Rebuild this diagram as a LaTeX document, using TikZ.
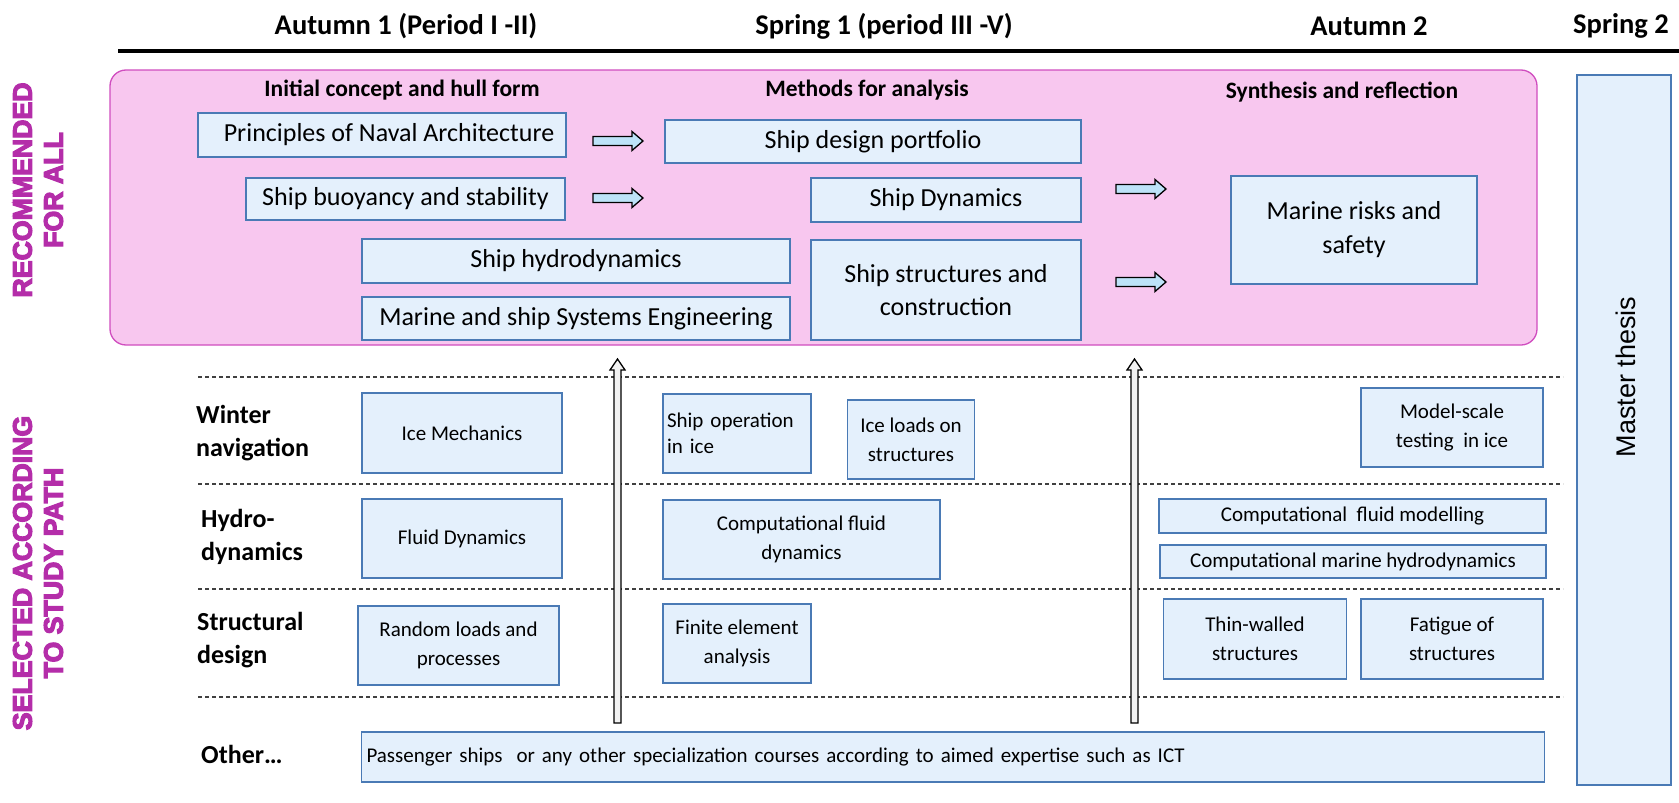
\documentclass[tikz,border=0pt]{standalone}
\usepackage{fontspec}
\setmainfont{Carlito}
\newfontfamily\arialfont{Liberation Sans}
\setsansfont{Liberation Sans}
\usetikzlibrary{calc}
\definecolor{boxfill}{HTML}{E4F0FC}
\definecolor{boxline}{HTML}{4A7AB5}
\definecolor{pinkfill}{HTML}{F8C7EF}
\definecolor{pinkline}{HTML}{D04DBF}
\definecolor{maglabel}{HTML}{B42DA9}
\definecolor{arrowfill}{HTML}{BDE3F8}
\definecolor{upfill}{HTML}{F2F2F2}
\tikzset{
  box/.style={draw=boxline, fill=boxfill, line width=1.6pt, inner sep=0pt, align=center},
  big/.style={font=\fontsize{26}{33}\selectfont},
  small/.style={font=\fontsize{21}{29}\selectfont},
  hd/.style={font=\bfseries\fontsize{28.5}{34}\selectfont, inner sep=0pt},
  sub/.style={font=\bfseries\fontsize{23.5}{28}\selectfont, inner sep=0pt},
  rowlab/.style={font=\bfseries\fontsize{26}{33}\selectfont, align=left, anchor=west, inner sep=0pt},
  side/.style={font=\sffamily\bfseries\fontsize{26.7}{31}\selectfont, text=maglabel, rotate=90, align=center, inner sep=0pt},
  pinkbox/.style={draw=pinkline, fill=pinkfill, line width=1.3pt, rounded corners=16pt, inner sep=0pt},
  dashline/.style={draw=black!75, line width=1.1pt, dash pattern=on 4pt off 3pt},
  rblock/.pic={\draw[fill=arrowfill, line width=1.3pt, line join=miter]
     (0,-4.5) -- (39,-4.5) -- (39,-9.5) -- (50,0) -- (39,9.5) -- (39,4.5) -- (0,4.5) -- cycle;},
  upblock/.pic={\draw[fill=upfill, line width=1.3pt, line join=miter]
     (-3.5,0) -- (-3.5,-353) -- (-7.5,-353) -- (0,-364) -- (7.5,-353) -- (3.5,-353) -- (3.5,0) -- cycle;}
}
\begin{document}
\begin{tikzpicture}[x=1pt,y=-1pt]
\useasboundingbox (0,0) rectangle (1679,803);

% headings
\node[hd] (h1) at (406,26) {Autumn 1 (Period I -II)};
\node[hd] (h2) at (884,26) {Spring 1 (period III -V)};
\node[hd] (h3) at (1369,26) {Autumn 2};
\node[hd] (h4) at (1621,26) {Spring 2};
\coordinate (ls) at (118,51);
\coordinate (le) at (1679,51);
\draw[line width=3.5pt] (ls) -- (le);

% side labels
\node[side] (recall) at (38,190) {\special{pdf:literal direct 2 Tr 1.2 w}RECOMMENDED\\\special{pdf:literal direct 2 Tr 1.2 w}FOR ALL\special{pdf:literal direct 0 Tr}};
\node[side] (selpath) at (38,573) {\special{pdf:literal direct 2 Tr 1.2 w}SELECTED ACCORDING\\\special{pdf:literal direct 2 Tr 1.2 w}TO STUDY PATH\special{pdf:literal direct 0 Tr}};

% recommended area
\node[pinkbox, minimum width=1427, minimum height=275] (rec) at (823.5,207.5) {};
\node[sub] (sA) at (402,90) {Initial concept and hull form};
\node[sub] (sB) at (867,90) {Methods for analysis};
\node[sub] (sC) at (1342,92) {Synthesis and reflection};

\node[box, big, minimum width=368, minimum height=44] (p1) at (382,135) {\hspace{14pt}Principles of Naval Architecture};
\node[box, big, minimum width=319, minimum height=42] (p2) at (405.5,199) {Ship buoyancy and stability};
\node[box, big, minimum width=428, minimum height=44] (p3) at (576,261) {Ship hydrodynamics};
\node[box, big, minimum width=428, minimum height=43] (p4) at (576,318.5) {Marine and ship Systems Engineering};
\node[box, big, minimum width=416, minimum height=43] (m1) at (873,141.5) {Ship design portfolio};
\node[box, big, minimum width=270, minimum height=44] (m2) at (946,200) {Ship Dynamics};
\node[box, big, minimum width=270, minimum height=100] (m3) at (946,290) {Ship structures and\\construction};
\node[box, big, minimum width=246, minimum height=108] (s1) at (1354,230) {Marine risks and\\[1pt]safety};

\coordinate (a1) at (593,141);
\coordinate (a2) at (593,198);
\coordinate (a3) at (1116,189);
\coordinate (a4) at (1116,282);
\pic at (a1) {rblock};
\pic at (a2) {rblock};
\pic at (a3) {rblock};
\pic at (a4) {rblock};

% master thesis
\node[box, minimum width=94, minimum height=710] (mt) at (1624,430) {};
\node[font=\arialfont\fontsize{27}{32}\selectfont, rotate=90, inner sep=0pt] (mtt) at (1626,377) {Master thesis};

% dashed separators
\coordinate (d1a) at (198,377);  \coordinate (d1b) at (1563,377);
\coordinate (d2a) at (198,484);  \coordinate (d2b) at (1563,484);
\coordinate (d3a) at (198,589);  \coordinate (d3b) at (1563,589);
\coordinate (d4a) at (198,697);  \coordinate (d4b) at (1563,697);
\draw[dashline] (d1a) -- (d1b);
\draw[dashline] (d2a) -- (d2b);
\draw[dashline] (d3a) -- (d3b);
\draw[dashline] (d4a) -- (d4b);

% row labels
\node[rowlab] (rw) at (196,433.5) {Winter\\navigation};
\node[rowlab] (rh) at (201,536.5) {Hydro-\\dynamics};
\node[rowlab] (rs) at (197,640.5) {Structural\\design};
\node[rowlab] (ro) at (201,754) {Other…};

% winter navigation
\node[box, small, minimum width=200, minimum height=80] (im) at (462,433) {Ice Mechanics};
\node[box, small, text width=140, inner xsep=4pt, align=left, minimum height=79, font=\fontsize{21}{26}\selectfont] (so) at (737,433.5) {Ship operation\\in ice};
\node[box, small, minimum width=127, minimum height=79] (il) at (911,439.5) {Ice loads on\\structures};
\node[box, small, minimum width=182, minimum height=79] (ms) at (1452,427.5) {Model-scale\\testing\ \ in ice};

% hydrodynamics
\node[box, small, minimum width=200, minimum height=79] (fd) at (462,538.5) {Fluid Dynamics};
\node[box, small, minimum width=277, minimum height=79] (cfd) at (801.5,539.5) {Computational fluid\\dynamics};
\node[box, small, minimum width=387, minimum height=34] (cfm) at (1352.5,516) {Computational\ \ fluid modelling};
\node[box, small, minimum width=386, minimum height=33] (cmh) at (1353,561.5) {Computational marine hydrodynamics};

% structural design
\node[box, small, minimum width=201, minimum height=79] (rl) at (458.5,645.5) {Random loads and\\processes};
\node[box, small, minimum width=148, minimum height=79] (fe) at (737,643.5) {Finite element\\analysis};
\node[box, small, minimum width=183, minimum height=80] (tw) at (1255,639) {Thin-walled\\structures};
\node[box, small, minimum width=182, minimum height=80] (fa) at (1452,639) {Fatigue of\\structures};

% other
\node[box, small, text width=1173, inner xsep=5pt, align=left, minimum height=50] (ps) at (953,757) {Passenger ships\ \ or any other specialization courses according to aimed expertise such as ICT};

% vertical arrows
\coordinate (u1) at (617.5,723);
\coordinate (u2) at (1134.5,723);
\pic at (u1) {upblock};
\pic at (u2) {upblock};
\end{tikzpicture}
\end{document}
